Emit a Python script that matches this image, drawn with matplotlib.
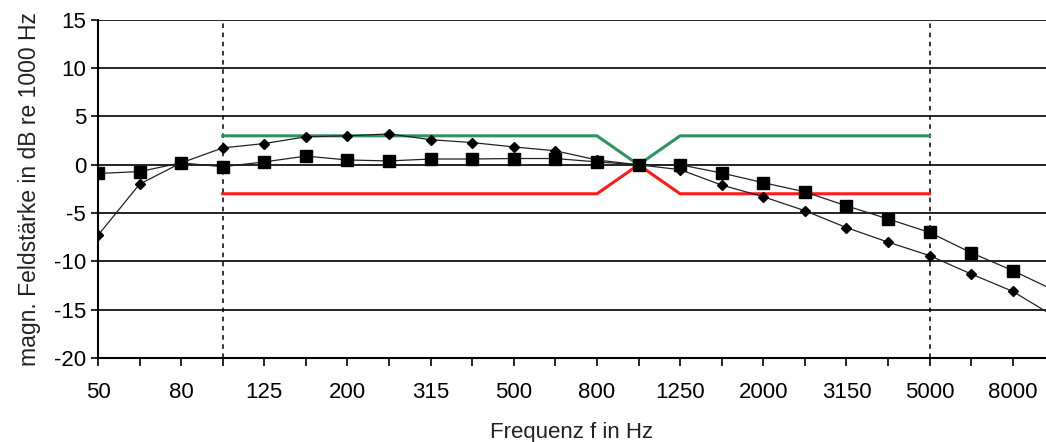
import numpy as np
import matplotlib
matplotlib.use("Agg")
import matplotlib.pyplot as plt

plt.rcParams['font.family'] = ['Liberation Sans', 'DejaVu Sans']
plt.rcParams['axes.unicode_minus'] = False

# Terzbänder
freqs = ['50', '63', '80', '100', '125', '160', '200', '250', '315', '400', '500', '630',
         '800', '1000', '1250', '1600', '2000', '2500', '3150', '4000', '5000', '6300',
         '8000', '10000']
tick_labels = ['50', '', '80', '', '125', '', '200', '', '315', '', '500', '',
               '800', '', '1250', '', '2000', '', '3150', '', '5000', '', '8000', '']

# Messreihen (dB re 1000 Hz)
squares = [-0.9, -0.7, 0.2, -0.2, 0.3, 0.9, 0.5, 0.4, 0.6, 0.6, 0.65, 0.65,
           0.3, 0.0, 0.0, -0.85, -1.85, -2.8, -4.25, -5.6, -7.0, -9.1, -10.95, -13.0]
diamonds = [-7.3, -2.0, 0.2, 1.75, 2.2, 2.9, 3.0, 3.2, 2.6, 2.3, 1.85, 1.45,
            0.5, 0.0, -0.5, -2.1, -3.3, -4.75, -6.5, -8.0, -9.4, -11.3, -13.1, -15.7]

# Toleranzgrenzen
tol_freqs = ['100', '800', '1000', '1250', '5000']
tol_upper = [3, 3, 0, 3, 3]
tol_lower = [-3, -3, 0, -3, -3]

x = np.arange(len(freqs))
tol_x = [freqs.index(f) for f in tol_freqs]

fig = plt.figure(figsize=(10.46, 4.42), dpi=100)
ax = fig.add_axes([0.0937, 0.19, 0.9063, 0.765])

for yv in np.arange(-15, 16, 5):
    ax.axhline(yv, color='black', linewidth=1.2, zorder=1)

for f in ['100', '5000']:
    ax.axvline(freqs.index(f), color='black', linestyle=(0, (3, 3)), linewidth=1.1, zorder=1)

ax.plot(tol_x, tol_upper, color='#2e9460', linewidth=2.2, zorder=2)
ax.plot(tol_x, tol_lower, color='#ff1a1a', linewidth=2.2, zorder=2)

ax.plot(x, squares, color='#222222', linewidth=0.9, marker='s', markersize=8,
        markerfacecolor='black', markeredgecolor='black', zorder=3)
ax.plot(x, diamonds, color='#222222', linewidth=0.9, marker='D', markersize=5.5,
        markerfacecolor='black', markeredgecolor='black', zorder=3)

ax.set_xticks(x)
ax.set_xticklabels(tick_labels, fontsize=16)
ax.set_yticks(np.arange(-20, 16, 5))
ax.tick_params(axis='y', labelsize=16, length=5, width=1.2)
ax.tick_params(axis='x', length=6, width=1.2, pad=11)

ax.set_ylim(-20, 15)
ax.set_xlim(0, 22.8)

for side in ['top', 'right']:
    ax.spines[side].set_visible(False)
for side in ['left', 'bottom']:
    ax.spines[side].set_linewidth(1.5)

ax.set_ylabel('magn. Feldstärke in dB re 1000 Hz', fontsize=16.5, color='#222222', labelpad=9)
ax.set_xlabel('Frequenz f in Hz', fontsize=16, color='#222222', labelpad=14)

plt.savefig('out.png', dpi=100)
